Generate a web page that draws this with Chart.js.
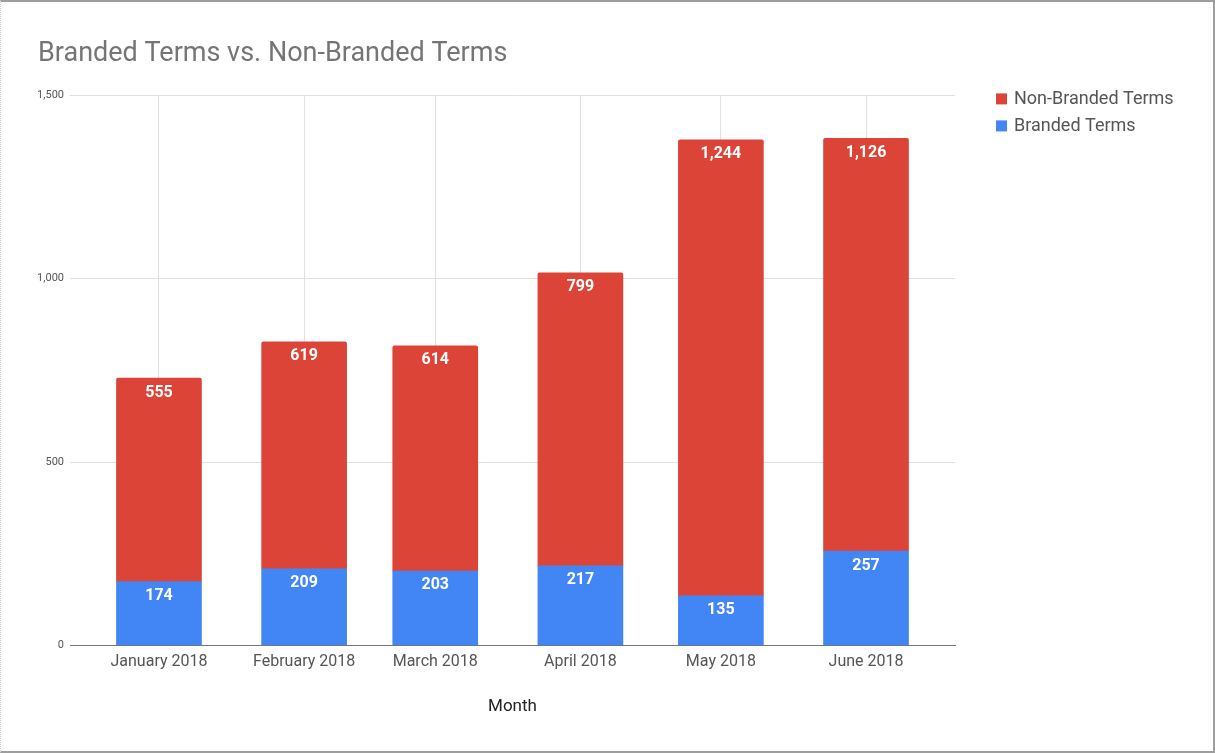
<!DOCTYPE html>
<html><head><meta charset="utf-8">
<script src="https://cdn.jsdelivr.net/npm/chart.js@4.4.0/dist/chart.umd.min.js"></script>
<style>
html,body{margin:0;padding:0;background:#fff;}
#wrap{position:relative;width:1215px;height:753px;overflow:hidden;}
#frame{position:absolute;left:0;top:0;width:1215px;height:753px;box-sizing:border-box;border-top:2px solid #9e9e9e;border-right:2px solid #9e9e9e;border-bottom:2px solid #9e9e9e;border-left:1px dotted #d0d0d0;pointer-events:none;}
canvas{position:absolute;left:0;top:0;}
</style></head>
<body><div id="wrap"><canvas id="c" width="1215" height="753"></canvas><div id="frame"></div></div>
<script>
const categories = ["January 2018", "February 2018", "March 2018", "April 2018", "May 2018", "June 2018"];
const monthDates = ["2018-01-01", "2018-02-01", "2018-03-01", "2018-04-01", "2018-05-01", "2018-06-01"];
const brandedTerms = [174, 209, 203, 217, 135, 257];
const nonBrandedTerms = [555, 619, 614, 799, 1244, 1126];
const yTicks = [0, 500, 1000, 1500];

const DAY = 86400000;
const dayOffset = d => (Date.parse(d) - Date.parse(monthDates[0])) / DAY;
const xPositions = monthDates.map(dayOffset);

const valueLabels = {
  id: 'valueLabels',
  afterDatasetsDraw(chart) {
    const ctx = chart.ctx;
    ctx.save();
    ctx.font = 'bold 16px Roboto';
    ctx.fillStyle = '#ffffff';
    ctx.textAlign = 'center';
    ctx.textBaseline = 'middle';
    chart.data.datasets.forEach((ds, i) => {
      const meta = chart.getDatasetMeta(i);
      meta.data.forEach((el, j) => {
        const v = ds.data[j].y;
        ctx.fillText(v.toLocaleString('en-US'), el.x, el.y + 14.5);
      });
    });
    ctx.restore();
  }
};

const sideLegend = {
  id: 'sideLegend',
  afterDraw(chart) {
    const ctx = chart.ctx;
    const area = chart.chartArea;
    ctx.save();
    ctx.font = '18px Roboto';
    ctx.textBaseline = 'middle';
    ctx.textAlign = 'left';
    const items = chart.data.datasets.slice().reverse();
    items.forEach((ds, k) => {
      const cy = area.top + 3 + k * 27;
      const bx = area.right + 41;
      ctx.fillStyle = ds.backgroundColor;
      ctx.fillRect(bx, cy - 5, 11, 11);
      ctx.fillStyle = '#555555';
      ctx.fillText(ds.label, bx + 18, cy + 1);
    });
    ctx.restore();
  }
};

new Chart(document.getElementById('c'), {
  type: 'bar',
  data: {
    datasets: [
      {
        label: 'Branded Terms',
        data: brandedTerms.map((v, i) => ({ x: xPositions[i], y: v })),
        backgroundColor: '#4285f4',
        barThickness: 85
      },
      {
        label: 'Non-Branded Terms',
        data: nonBrandedTerms.map((v, i) => ({ x: xPositions[i], y: v })),
        backgroundColor: '#db4437',
        barThickness: 85,
        borderRadius: { topLeft: 2, topRight: 2, bottomLeft: 0, bottomRight: 0 },
        borderSkipped: 'bottom'
      }
    ]
  },
  options: {
    responsive: false,
    devicePixelRatio: 1,
    animation: false,
    layout: { padding: { left: 38, right: 260, top: 22, bottom: 36 } },
    plugins: {
      legend: { display: false },
      tooltip: { enabled: false },
      title: {
        display: true,
        text: 'Branded Terms vs. Non-Branded Terms',
        align: 'start',
        color: '#757575',
        font: { family: 'Roboto', size: 27, weight: 'normal' },
        padding: { top: 16, bottom: 25 }
      }
    },
    scales: {
      x: {
        type: 'linear',
        stacked: true,
        offset: false,
        min: -19,
        max: 170,
        afterBuildTicks: s => { s.ticks = xPositions.map(v => ({ value: v })); },
        ticks: {
          autoSkip: false,
          maxRotation: 0,
          padding: 7,
          color: '#555555',
          font: { family: 'Roboto', size: 16 },
          callback: v => categories[xPositions.indexOf(v)]
        },
        grid: { color: '#e0e0e0', drawTicks: false, offset: false },
        border: { display: true, color: '#757575', width: 1 },
        title: {
          display: true,
          text: 'Month',
          color: '#222222',
          font: { family: 'Roboto', size: 17 },
          padding: { top: 18, bottom: 0 }
        }
      },
      y: {
        stacked: true,
        min: 0,
        max: 1500,
        afterBuildTicks: s => { s.ticks = yTicks.map(v => ({ value: v })); },
        afterFit: s => { s.width = 32; },
        ticks: {
          padding: 6,
          color: '#555555',
          font: { family: 'Roboto', size: 11 },
          callback: v => v.toLocaleString('en-US')
        },
        grid: { color: '#e0e0e0', drawTicks: false },
        border: { display: false }
      }
    }
  },
  plugins: [valueLabels, sideLegend]
});
</script>
</body></html>
